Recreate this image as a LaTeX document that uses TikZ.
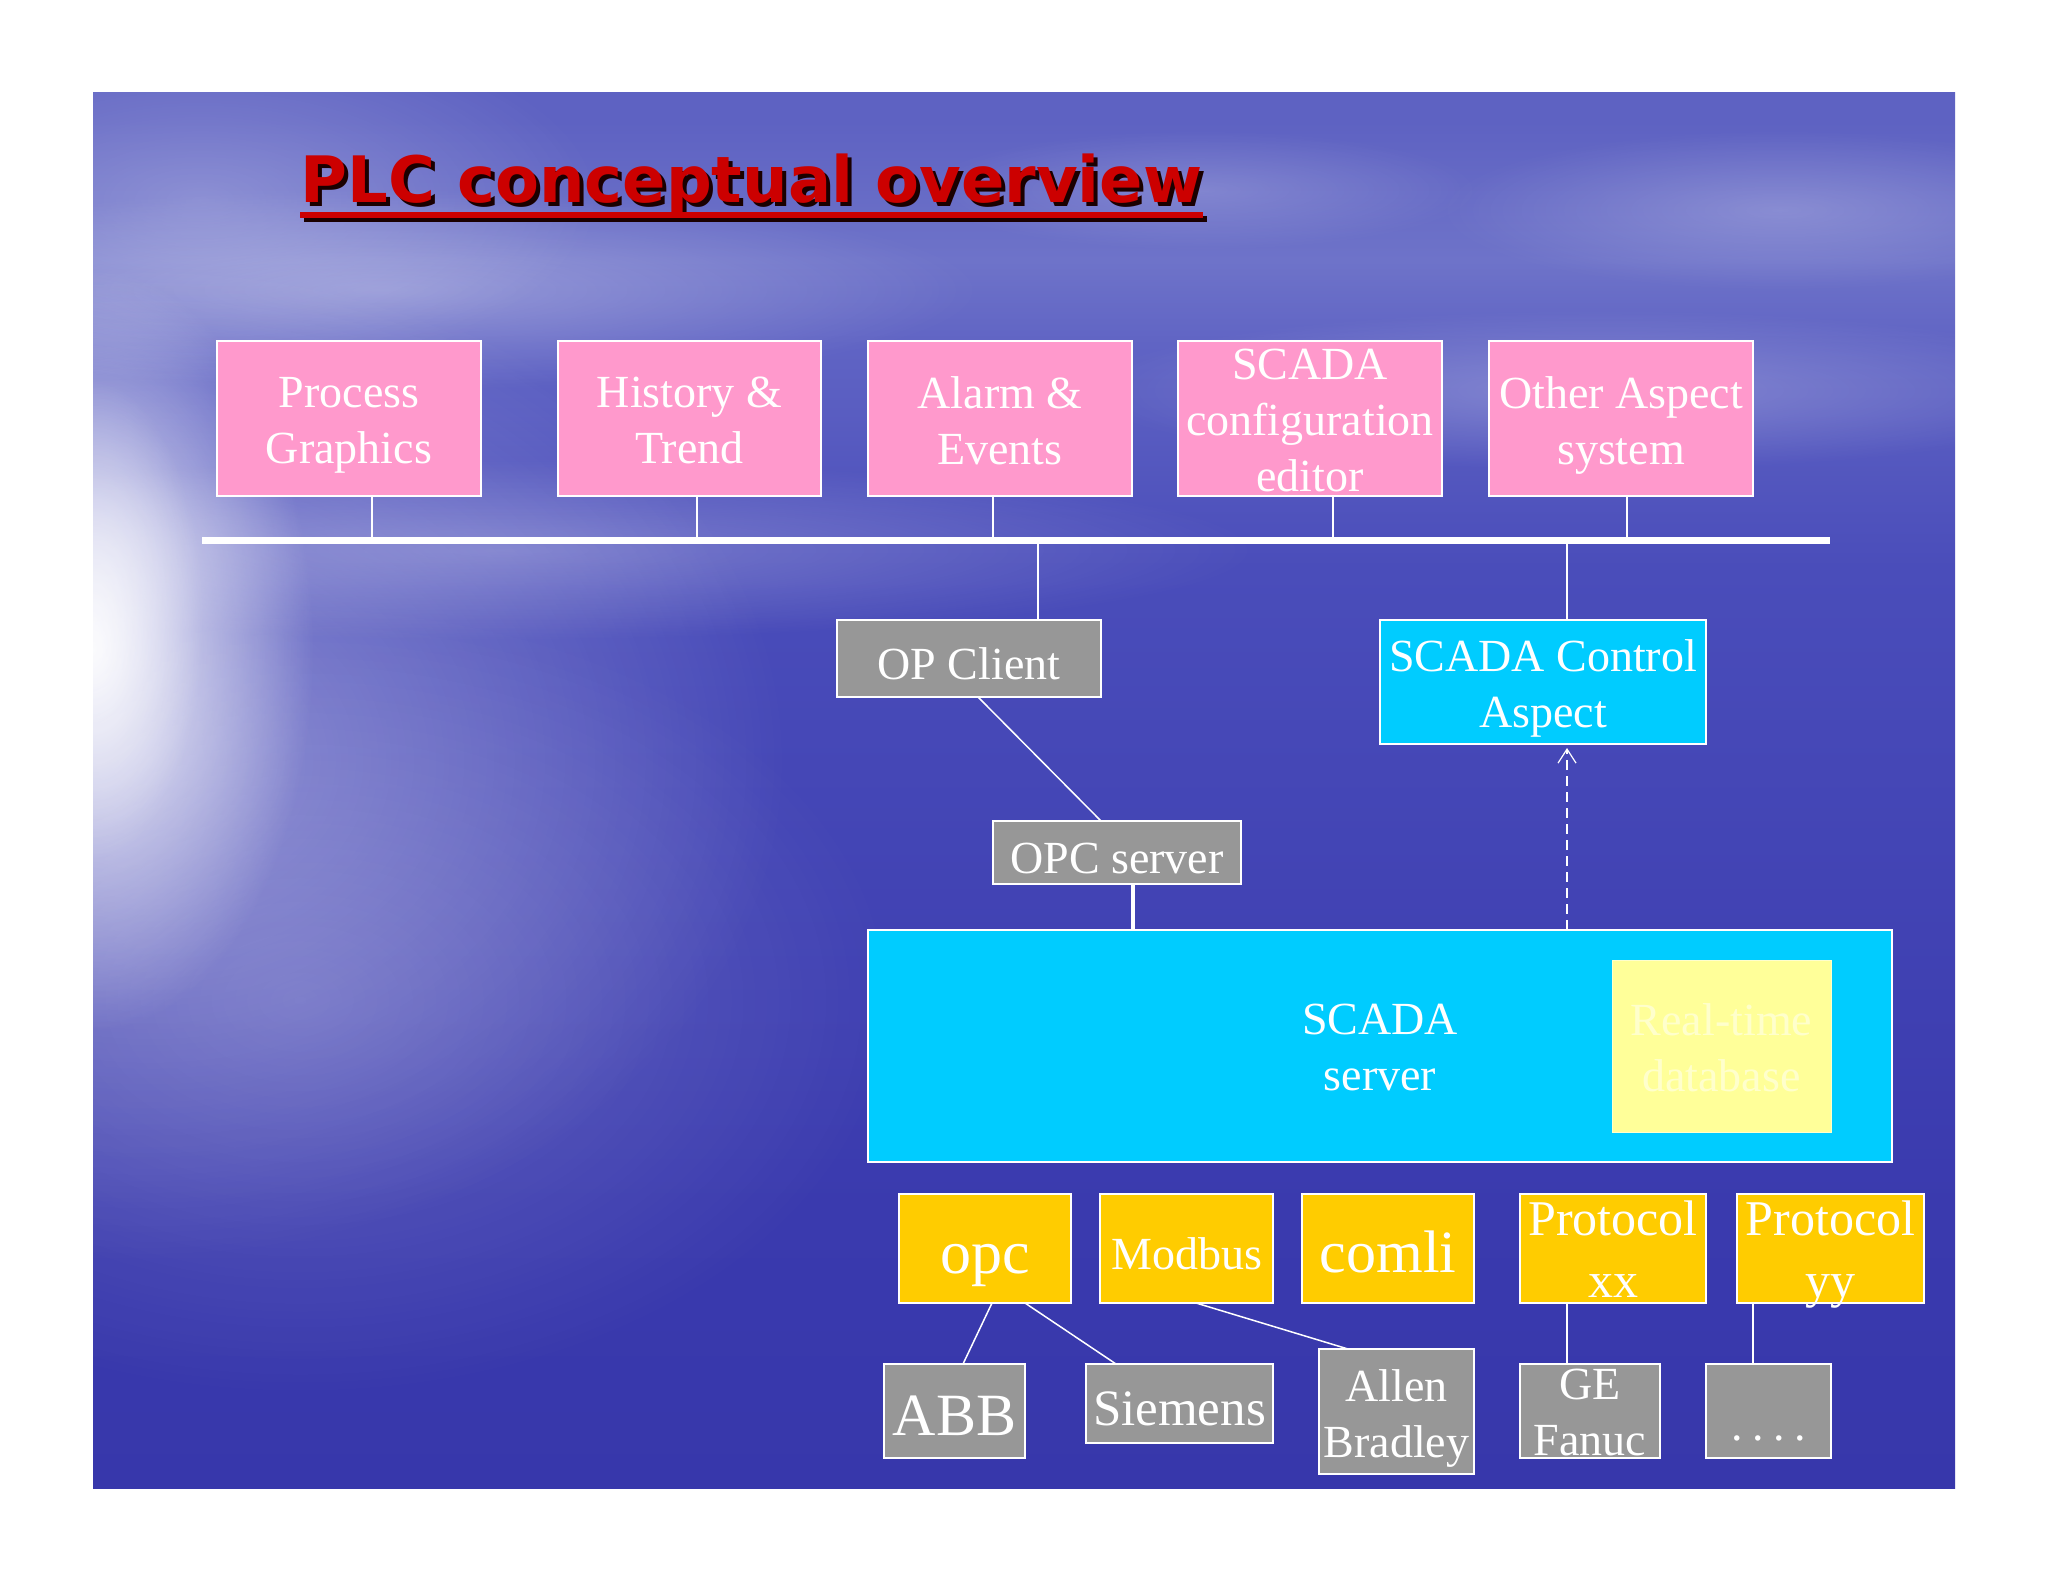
\documentclass[tikz,border=0pt]{standalone}
\usepackage{fontspec}
\setmainfont{Liberation Serif}
\newfontfamily\titlefont{DejaVu Sans}
\usetikzlibrary{fit,arrows.meta,fadings}
\tikzfading[name=softglow, inner color=transparent!0, outer color=transparent!100]
\definecolor{pinkc}{HTML}{FF99CC}
\definecolor{grayc}{HTML}{979797}
\definecolor{cyanc}{HTML}{00CCFF}
\definecolor{yelc}{HTML}{FFCC00}
\definecolor{dbc}{HTML}{FFFF99}
\definecolor{dbtext}{HTML}{FFFFCC}
\definecolor{titlered}{HTML}{CC0000}
\definecolor{titleshadow}{HTML}{1A0000}
\definecolor{bgA}{HTML}{3030A2}
\definecolor{bgB}{HTML}{3A3AAE}
\definecolor{bgC}{HTML}{4A4DBA}
\definecolor{bgD}{HTML}{6064C4}
\definecolor{bgE}{HTML}{6E73C9}
\definecolor{bgF}{HTML}{5E62C2}
\definecolor{bgG}{HTML}{5659C0}
\definecolor{bgH}{HTML}{4C4EB8}
\pgfdeclareverticalshading{slidebg}{100bp}{color(0bp)=(bgA); color(35bp)=(bgB); color(58bp)=(bgC); color(66bp)=(bgD); color(69bp)=(bgE); color(74bp)=(bgF); color(88bp)=(bgG); color(100bp)=(bgH)}
\begin{document}
\begin{tikzpicture}[x=0.5pt,y=-0.5pt,
  boxbase/.style={draw=white, line width=0.8pt, inner sep=0pt, outer sep=0pt},
  pinkbox/.style={boxbase, fill=pinkc},
  graybox/.style={boxbase, fill=grayc},
  cyanbox/.style={boxbase, fill=cyanc},
  yelbox/.style={boxbase, fill=yelc},
  dbbox/.style={draw=dbtext, line width=0.5pt, fill=dbc, inner sep=0pt, outer sep=0pt},
  txt/.style={text=white, align=center, inner sep=0pt, yshift=-5pt,
    font=\fontsize{23pt}{28pt}\selectfont,
    execute at begin node=\strut, execute at end node=\strut},
  txtbig/.style={txt, font=\fontsize{31pt}{37pt}\selectfont},
  txtbigb/.style={txt, font=\fontsize{30pt}{36pt}\selectfont},
  txtmid/.style={txt, font=\fontsize{25pt}{31pt}\selectfont},
  txtsie/.style={txt, font=\fontsize{25.5pt}{30.6pt}\selectfont},
  titletxt/.style={inner sep=0pt, font=\titlefont\bfseries\fontsize{32pt}{38pt}\selectfont},
  conn/.style={draw=white, line width=0.75pt},
  thickconn/.style={draw=white, line width=2pt},
  bus/.style={draw=white, line width=3.5pt},
  dasharrow/.style={draw=white, line width=0.6pt, dash pattern=on 5pt off 3pt,
    -{Straight Barb[length=7pt,width=9pt]}},
  glow/.style={fill=white, path fading=softglow}
]
\useasboundingbox (0,0) rectangle (2048,1582);
\fill[white] (0,0) rectangle (2048,1582);

% ---- slide background ----
\begin{scope}
  \clip (93,93) rectangle (1955,1488);
  \shade[shading=slidebg] (93,93) rectangle (1955,1488);
  % clouds
  \fill[glow, opacity=0.30] (380,290) ellipse [x radius=300pt, y radius=50pt];
  \fill[glow, opacity=0.25] (200,200) ellipse [x radius=200pt, y radius=90pt];
  \fill[glow, opacity=0.25] (1600,390) ellipse [x radius=260pt, y radius=40pt];
  \fill[glow, opacity=0.22] (1780,210) ellipse [x radius=170pt, y radius=40pt];
  \fill[glow, opacity=0.18] (1200,190) ellipse [x radius=140pt, y radius=30pt];
  \fill[glow, opacity=0.25] (500,550) ellipse [x radius=380pt, y radius=45pt];
  % left glow
  \fill[glow, opacity=0.95] (93,650) ellipse [x radius=110pt, y radius=190pt];
  \fill[glow, opacity=0.60] (93,620) ellipse [x radius=55pt, y radius=120pt];
  \fill[glow, opacity=0.35] (150,760) ellipse [x radius=320pt, y radius=250pt];
  \fill[glow, opacity=0.20] (300,1000) ellipse [x radius=300pt, y radius=200pt];
\end{scope}

% ---- title ----
\node[titletxt, text=titleshadow, anchor=base west] (titlesh) at (304,207) {PLC conceptual overview};
\draw[titleshadow, line width=3pt] ([yshift=-6pt]titlesh.base west) -- ([yshift=-6pt]titlesh.base east);
\node[titletxt, text=titlered, anchor=base west] (title) at (300,203) {PLC conceptual overview};
\draw[titlered, line width=3pt] ([yshift=-6pt]title.base west) -- ([yshift=-6pt]title.base east);

% ---- top row ----
\node[pinkbox, fit={(217,341) (481,496)}] (pg) {};
\node[pinkbox, fit={(558,341) (821,496)}] (ht) {};
\node[pinkbox, fit={(868,341) (1132,496)}] (ae) {};
\node[pinkbox, fit={(1178,341) (1442,496)}] (sce) {};
\node[pinkbox, fit={(1489,341) (1753,496)}] (oas) {};
\node[txt] (pgt) at (pg) {Process\\Graphics};
\node[txt] (htt) at (ht) {History \&\\Trend};
\node[txt] (aet) at (ae) {Alarm \&\\Events};
\node[txt] (scet) at (sce) {SCADA\\configuration\\editor};
\node[txt] (oast) at (oas) {Other Aspect\\system};

% ---- bus ----
\coordinate (busL) at (202,541);
\coordinate (busR) at (1830,541);
\draw[bus] (busL) -- (busR);
\coordinate (b1) at (372,541);
\coordinate (b2) at (697,541);
\coordinate (b3) at (993,541);
\coordinate (b4) at (1333,541);
\coordinate (b5) at (1627,541);
\draw[conn] (pg.south -| b1) -- (b1);
\draw[conn] (ht.south -| b2) -- (b2);
\draw[conn] (ae.south -| b3) -- (b3);
\draw[conn] (sce.south -| b4) -- (b4);
\draw[conn] (oas.south -| b5) -- (b5);

% ---- middle ----
\node[graybox, fit={(837,620) (1101,697)}] (opcl) {};
\node[txt] (opclt) at (opcl) {OP Client};
\node[cyanbox, fit={(1380,620) (1706,744)}] (sca) {};
\node[txt] (scat) at (sca) {SCADA Control\\Aspect};
\node[graybox, fit={(993,821) (1241,884)}] (opcs) {};
\node[txt] (opcst) at (opcs) {OPC server};
\node[cyanbox, fit={(868,930) (1892,1162)}] (ss) {};
\node[txt] (sst) at (ss) {SCADA\\server};
\node[dbbox, fit={(1612,960) (1831,1132)}] (rtdb) {};
\node[txt, text=dbtext] (rtdbt) at (rtdb) {Real-time\\database};

\coordinate (c1) at (1038,541);
\coordinate (c2) at (1567,541);
\draw[conn] (c1) -- (c1 |- opcl.north);
\draw[conn] (c2) -- (c2 |- sca.north);
\draw[conn] ([xshift=4.5pt]opcl.south) -- ([xshift=-8pt]opcs.north);
\draw[thickconn] ([xshift=8pt]opcs.south) -- ([xshift=8pt]opcs.south |- ss.north);
\draw[dasharrow] (ss.north -| c2) -- ([yshift=-2pt]sca.south -| c2);

% ---- protocol row ----
\node[yelbox, fit={(899,1194) (1071,1303)}] (opc) {};
\node[txtbig] (opct) at (opc) {opc};
\node[yelbox, fit={(1100,1194) (1273,1303)}] (mod) {};
\node[txt] (modt) at (mod) {Modbus};
\node[yelbox, fit={(1302,1194) (1474,1303)}] (com) {};
\node[txtbigb] (comt) at (com) {comli};
\node[yelbox, fit={(1520,1194) (1706,1303)}] (pxx) {};
\node[txtmid] (pxxt) at (pxx) {Protocol\\xx};
\node[yelbox, fit={(1737,1194) (1924,1303)}] (pyy) {};
\node[txtmid] (pyyt) at (pyy) {Protocol\\yy};

% ---- device row ----
\node[graybox, fit={(884,1364) (1025,1458)}] (abb) {};
\node[txtbigb] (abbt) at (abb) {ABB};
\node[graybox, fit={(1086,1364) (1273,1443)}] (sie) {};
\node[txtsie] (siet) at (sie) {Siemens};
\node[graybox, fit={(1319,1349) (1474,1474)}] (ab) {};
\node[txt] (abt) at (ab) {Allen\\Bradley};
\node[graybox, fit={(1520,1364) (1660,1458)}] (ge) {};
\node[txt] (get) at (ge) {GE\\Fanuc};
\node[graybox, fit={(1706,1364) (1831,1458)}] (dots) {};
\node[txt, yshift=-4pt] (dotst) at (dots) {.\hspace{0.21em}.\hspace{0.21em}.\hspace{0.21em}.};

\draw[conn] ([xshift=3.5pt]opc.south) -- ([xshift=4.25pt]abb.north);
\draw[conn] ([xshift=20pt]opc.south) -- ([xshift=-31.75pt]sie.north);
\draw[conn] ([xshift=4.75pt]mod.south) -- ([xshift=-24.25pt]ab.north);
\draw[conn] ([xshift=-23pt]pxx.south) -- ([xshift=-23pt]pxx.south |- ge.north);
\draw[conn] ([xshift=-38.75pt]pyy.south) -- ([xshift=-38.75pt]pyy.south |- dots.north);
\end{tikzpicture}
\end{document}
